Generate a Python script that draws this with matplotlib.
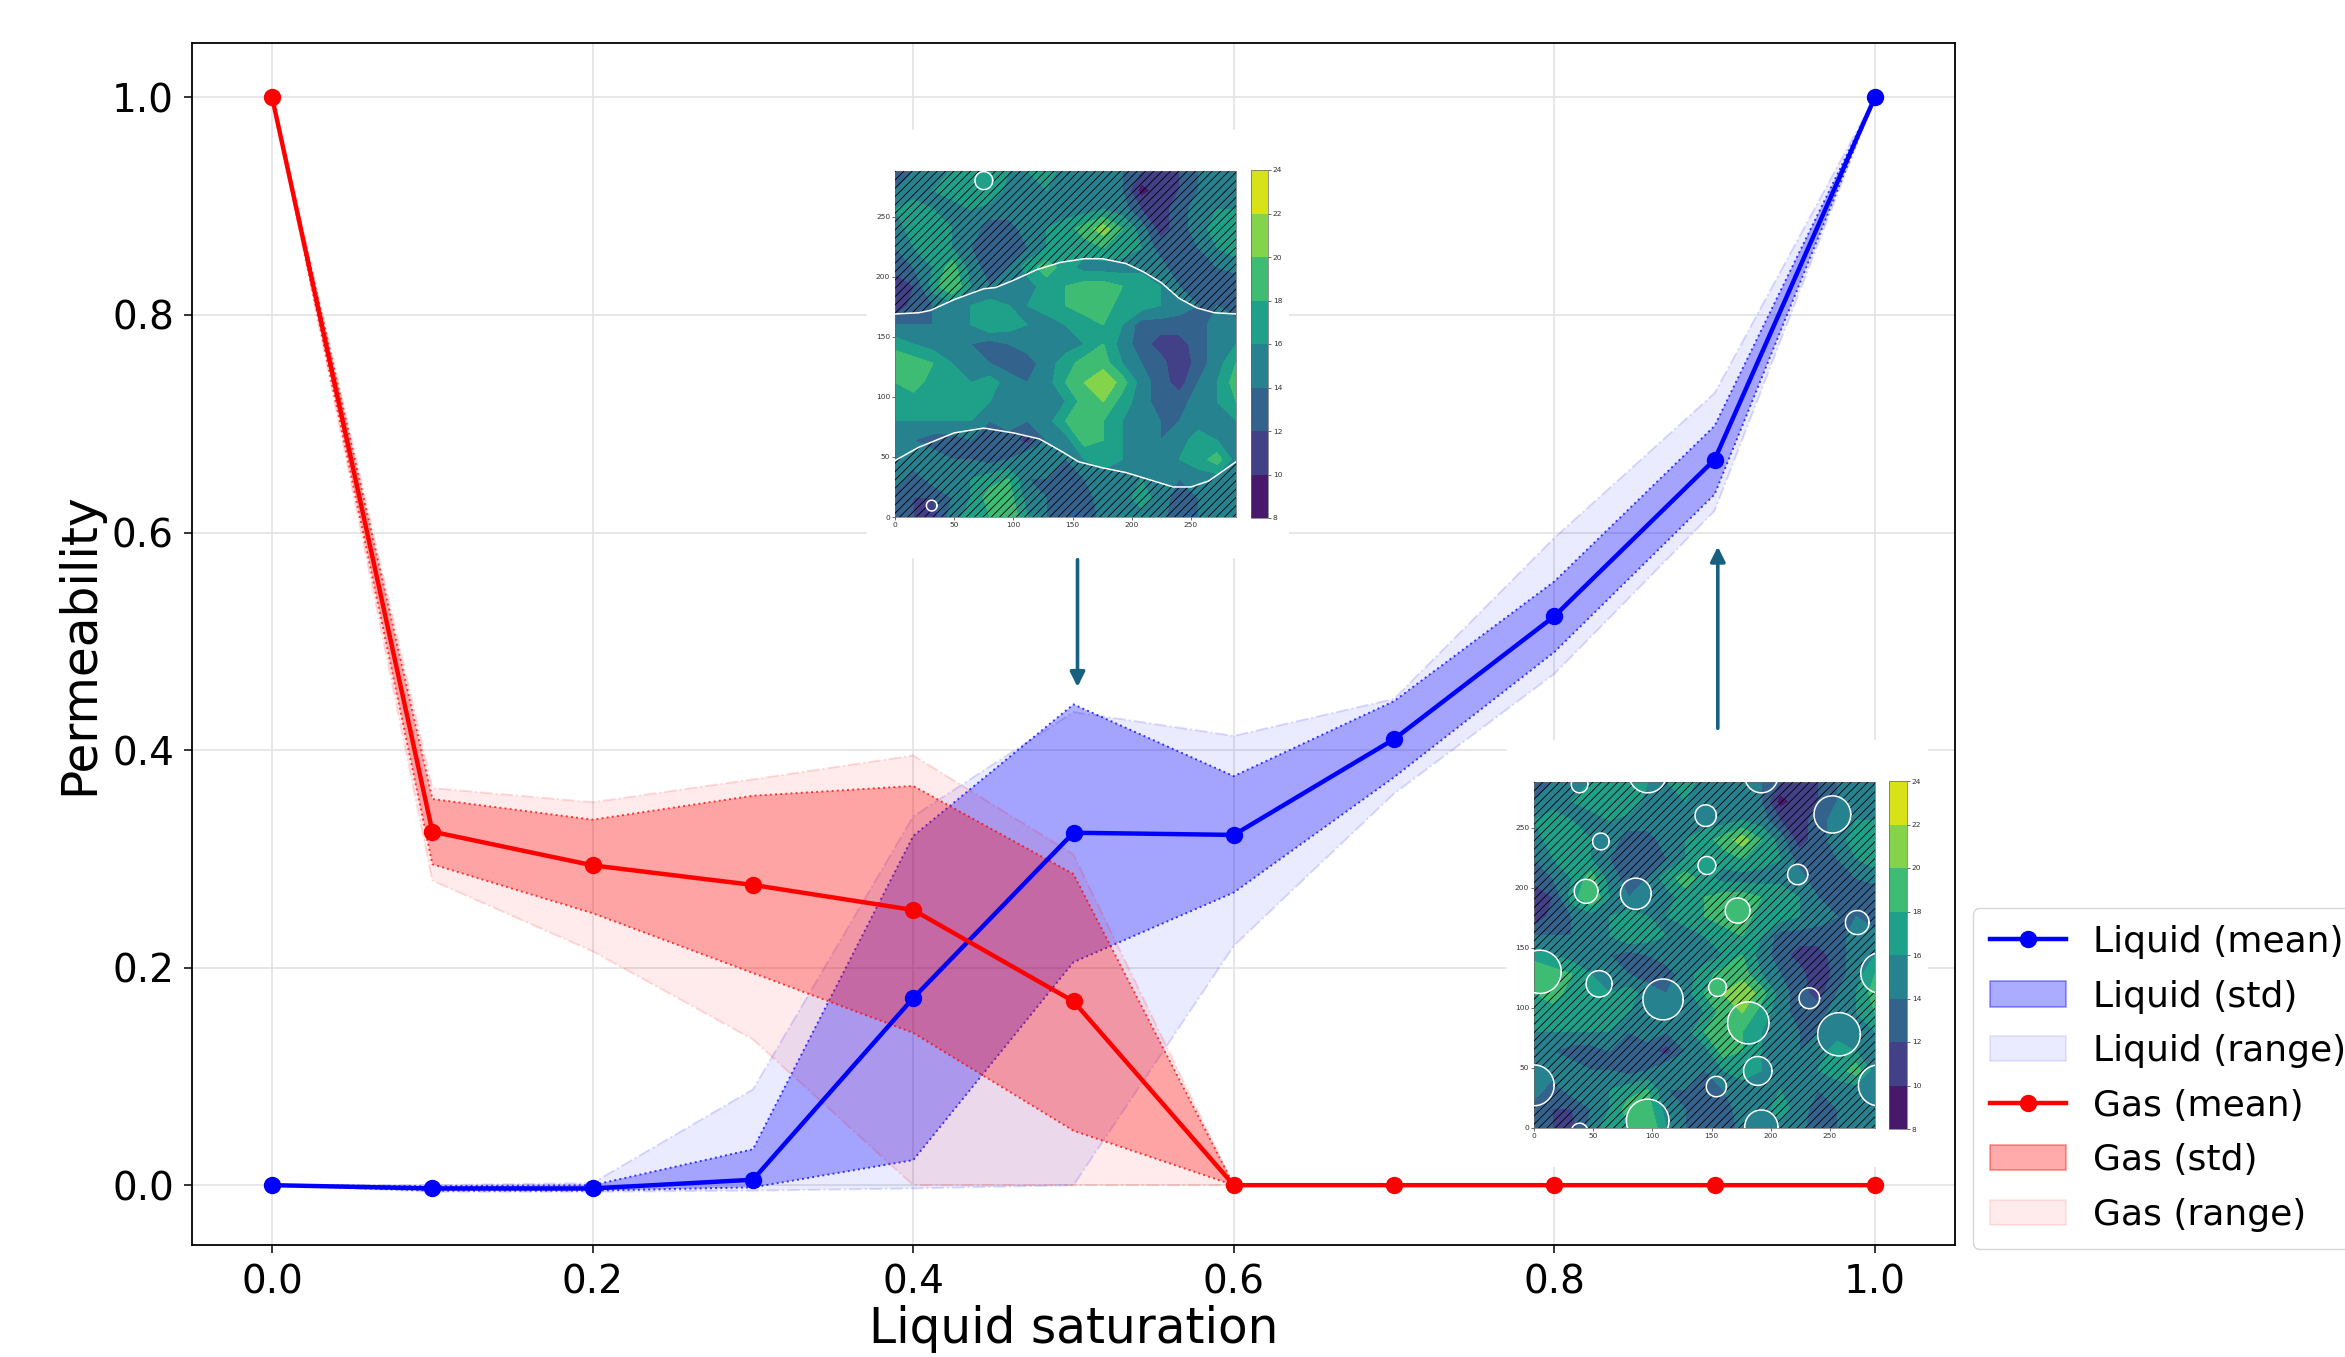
import numpy as np
import matplotlib
matplotlib.use('Agg')
import matplotlib.pyplot as plt
from matplotlib.lines import Line2D
from matplotlib.patches import Patch, PathPatch
from matplotlib.path import Path

W, H = 2345, 1357

sat = [0.0, 0.1, 0.2, 0.3, 0.4, 0.5, 0.6, 0.7, 0.8, 0.9, 1.0]

liquid_mean = [0.0, -0.003, -0.003, 0.005, 0.172, 0.324, 0.322, 0.410, 0.523, 0.667, 1.0]
liquid_std_hi = [0.0, -0.001, 0.0, 0.033, 0.321, 0.442, 0.376, 0.445, 0.555, 0.698, 1.0]
liquid_std_lo = [0.0, -0.005, -0.005, -0.002, 0.023, 0.205, 0.269, 0.375, 0.490, 0.635, 1.0]
liquid_rng_hi = [0.0, 0.0, 0.002, 0.088, 0.339, 0.435, 0.413, 0.447, 0.595, 0.728, 1.0]
liquid_rng_lo = [0.0, -0.006, -0.006, -0.005, -0.003, 0.0, 0.220, 0.360, 0.470, 0.620, 1.0]

gas_mean = [1.0, 0.325, 0.294, 0.276, 0.253, 0.169, 0.0, 0.0, 0.0, 0.0, 0.0]
gas_std_hi = [1.0, 0.355, 0.336, 0.358, 0.367, 0.286, 0.0, 0.0, 0.0, 0.0, 0.0]
gas_std_lo = [1.0, 0.295, 0.250, 0.195, 0.140, 0.050, 0.0, 0.0, 0.0, 0.0, 0.0]
gas_rng_hi = [1.0, 0.365, 0.352, 0.373, 0.395, 0.304, 0.0, 0.0, 0.0, 0.0, 0.0]
gas_rng_lo = [1.0, 0.280, 0.215, 0.134, 0.0, 0.0, 0.0, 0.0, 0.0, 0.0, 0.0]

# inset field (rows run from y=288 down to y=0)
field_x = [0, 16, 32, 48, 64, 80, 96, 112, 128, 144, 160, 176, 192, 208, 224, 240, 256, 272, 288]
field_y = [288, 272, 256, 240, 224, 208, 192, 176, 160, 144, 128, 112, 96, 80, 64, 48, 32, 16, 0]
field = [
    [14, 14, 15, 16, 18, 17, 16, 16, 17, 15, 15, 15, 14, 12, 11, 12, 14, 15, 15],
    [14, 15, 16, 17, 17, 18, 15, 15, 16, 15, 14, 15, 14, 9, 11, 12, 14, 15, 15],
    [16, 17, 16, 15, 16, 15, 15, 15, 15, 15, 15, 16, 15, 12, 11, 13, 15, 16, 16],
    [15, 17, 18, 16, 15, 13, 13, 15, 16, 17, 19, 21, 18, 15, 11, 13, 15, 17, 17],
    [14, 16, 18, 16, 14, 12, 12, 14, 16, 17, 17, 18, 17, 16, 13, 13, 14, 16, 17],
    [13, 14, 16, 19, 15, 13, 14, 17, 19, 17, 15, 15, 15, 15, 15, 12, 14, 14, 15],
    [10, 12, 17, 20, 16, 14, 15, 15, 17, 18, 19, 19, 18, 18, 16, 14, 14, 13, 12],
    [10, 13, 14, 15, 16, 17, 16, 16, 17, 18, 19, 19, 17, 17, 16, 15, 14, 14, 12],
    [14, 14, 14, 15, 16, 18, 17, 16, 15, 16, 17, 18, 16, 13, 13, 13, 13, 15, 15],
    [17, 16, 15, 14, 14, 13, 14, 15, 16, 15, 16, 18, 15, 13, 11, 11, 13, 15, 16],
    [20, 19, 18, 16, 15, 14, 13, 13, 15, 17, 19, 19, 16, 14, 13, 10, 13, 15, 18],
    [18, 19, 17, 17, 16, 17, 15, 14, 15, 18, 20, 22, 19, 15, 13, 11, 14, 16, 19],
    [18, 17, 17, 17, 18, 16, 15, 15, 15, 16, 19, 20, 17, 15, 13, 13, 15, 16, 18],
    [16, 16, 16, 16, 16, 14, 15, 14, 15, 18, 19, 18, 16, 15, 14, 14, 15, 16, 16],
    [15, 14, 13, 13, 14, 14, 13, 11, 14, 15, 19, 18, 16, 15, 14, 15, 17, 16, 15],
    [15, 15, 15, 14, 14, 13, 14, 16, 15, 14, 16, 17, 16, 15, 15, 16, 17, 19, 15],
    [15, 13, 15, 15, 16, 17, 18, 14, 14, 14, 14, 15, 14, 16, 15, 14, 15, 15, 15],
    [13, 12, 12, 14, 16, 19, 19, 15, 14, 14, 13, 15, 15, 17, 15, 13, 14, 15, 16],
    [13, 12, 11, 15, 17, 18, 20, 16, 14, 13, 12, 15, 15, 15, 15, 12, 14, 15, 15],
]
levels = [8, 10, 12, 14, 16, 18, 20, 22, 24]

upper_curve = [(0, 169), (20, 170), (30, 172), (50, 181), (75, 190), (85, 191), (100, 197), (120, 206),
               (140, 212), (160, 215), (175, 215), (195, 211), (210, 204), (225, 195), (240, 182),
               (255, 174), (270, 170), (288, 169)]
lower_curve = [(0, 47), (20, 58), (50, 70), (75, 74), (100, 70), (122, 65), (140, 55), (155, 46),
               (175, 41), (195, 37), (215, 31), (235, 25), (250, 25), (265, 30), (288, 46)]
circles_a = [(75, 280, 7.5), (31, 9.5, 4.5)]
circles_b = [(38.5, 286, 7), (96, 295, 16), (192, 293, 14), (252, 261, 15.5), (145, 260, 9),
             (56.5, 238.5, 7), (146, 218.5, 7.5), (222.7, 211, 8.5), (44, 197, 10), (86, 195, 13),
             (172, 181, 10.5), (273, 171, 10), (5, 130, 18), (293, 129, 17), (55, 120, 11),
             (109, 107, 17), (155, 117, 7.5), (232.5, 108, 8.7), (181, 87.5, 17.5), (257.6, 78, 18),
             (189, 47.5, 12), (154, 34.5, 8.5), (0, 35.5, 17), (291, 35.5, 17), (96, 6, 18),
             (192, 1, 14), (38.5, -3, 7)]

BLUE = (0, 0, 1)
RED = (1, 0, 0)
ARROW = '#17607f'


def px_axes(fig, x0, y0, x1, y1, **kw):
    # axes from pixel box, y measured from the top of the image
    return fig.add_axes([x0 / W, 1 - y1 / H, (x1 - x0) / W, (y1 - y0) / H], **kw)


def band(ax, lo, hi, color, alpha, edge_alpha, ls):
    ax.fill_between(sat, lo, hi, facecolor=color + (alpha,), edgecolor=color + (edge_alpha,),
                    linestyle=ls, linewidth=1.4)


def ring(cx, cy, r):
    t = np.linspace(0, -2 * np.pi, 61)
    return np.column_stack([cx + r * np.cos(t), cy + r * np.sin(t)])


def closed(pts):
    pts = np.asarray(pts, dtype=float)
    return Path(np.vstack([pts, pts[:1]]), closed=True)


def draw_map(fig, box, cbox, regions, circles, curves):
    ax = px_axes(fig, *box)
    cs = ax.contourf(field_x, field_y, field, levels=levels, cmap='viridis')
    paths = [closed(r) for r in regions] + [closed(ring(*c)) for c in circles]
    ax.add_patch(PathPatch(Path.make_compound_path(*paths), facecolor='none', edgecolor='black',
                           hatch='////', linewidth=0, zorder=3))
    for curve in curves:
        ax.plot(*zip(*curve), color='white', lw=1.1, zorder=4)
    for c in circles:
        ax.plot(*ring(*c).T, color='white', lw=1.1, zorder=4)
    ax.set_xlim(0, 288)
    ax.set_ylim(0, 288)
    ax.set_xticks([0, 50, 100, 150, 200, 250])
    ax.set_yticks([0, 50, 100, 150, 200, 250])
    ax.tick_params(labelsize=5.4, length=2, width=0.5, pad=1.5, colors='#333333')
    for s in ax.spines.values():
        s.set_linewidth(0.5)
        s.set_color('#666666')

    cax = px_axes(fig, *cbox)
    cb = fig.colorbar(cs, cax=cax)
    cb.set_ticks(levels)
    cb.ax.tick_params(labelsize=5.4, length=2, width=0.5, pad=1.5, colors='#333333')
    cb.outline.set_linewidth(0.5)
    cb.outline.set_edgecolor('#666666')


plt.rcParams['hatch.linewidth'] = 0.6

fig = plt.figure(figsize=(W / 100, H / 100), dpi=100)
ax = px_axes(fig, 192, 43, 1955, 1245)

band(ax, liquid_rng_lo, liquid_rng_hi, BLUE, 0.08, 0.14, '-.')
band(ax, liquid_std_lo, liquid_std_hi, BLUE, 0.3, 0.75, ':')
band(ax, gas_rng_lo, gas_rng_hi, RED, 0.08, 0.14, '-.')
band(ax, gas_std_lo, gas_std_hi, RED, 0.3, 0.75, ':')
ax.plot(sat, liquid_mean, color='blue', lw=3.2, marker='o', ms=11.5)
ax.plot(sat, gas_mean, color='red', lw=3.2, marker='o', ms=11.5)

ax.set_xlim(-0.05, 1.05)
ax.set_ylim(-0.055, 1.05)
ax.set_xticks([0.0, 0.2, 0.4, 0.6, 0.8, 1.0])
ax.set_yticks([0.0, 0.2, 0.4, 0.6, 0.8, 1.0])
ax.grid(True, color='#e3e3e3', lw=1.2)
ax.set_axisbelow(True)
ax.tick_params(labelsize=28, length=6, width=1.1, pad=7)
ax.set_xlabel('Liquid saturation', fontsize=35, labelpad=3)
ax.set_ylabel('Permeability', fontsize=35, labelpad=6)
for s in ax.spines.values():
    s.set_linewidth(1.3)

ax.annotate('', xy=(0.5025, 0.458), xytext=(0.5025, 0.575), annotation_clip=False,
            arrowprops=dict(arrowstyle='-|>', color=ARROW, lw=2.6, mutation_scale=22, shrinkA=0, shrinkB=0))
ax.annotate('', xy=(0.902, 0.587), xytext=(0.902, 0.42), annotation_clip=False,
            arrowprops=dict(arrowstyle='-|>', color=ARROW, lw=2.6, mutation_scale=22, shrinkA=0, shrinkB=0))

# white backing cards hide the grid behind the two maps
for card in [(867, 130, 1289, 558), (1507, 740, 1928, 1167)]:
    bg = px_axes(fig, *card)
    bg.axis('off')
    bg.add_patch(plt.Rectangle((0, 0), 1, 1, color='white', transform=bg.transAxes))

top_region = list(upper_curve) + [(288, 330), (0, 330)]
bottom_region = list(lower_curve)[::-1] + [(0, -30), (288, -30)]
full_region = [(-30, -30), (330, -30), (330, 330), (-30, 330)]

draw_map(fig, (895, 171, 1236, 517), (1251, 170, 1268, 518), [top_region, bottom_region], circles_a,
         [upper_curve, lower_curve])
draw_map(fig, (1534, 782, 1875, 1128), (1889, 781, 1907, 1129), [full_region], circles_b, [])

handles = [
    Line2D([], [], color='blue', lw=3.2, marker='o', ms=11.5),
    Patch(facecolor=BLUE + (0.33,), edgecolor=BLUE + (0.4,), lw=1.2),
    Patch(facecolor=BLUE + (0.08,), edgecolor=BLUE + (0.1,), lw=1.2),
    Line2D([], [], color='red', lw=3.2, marker='o', ms=11.5),
    Patch(facecolor=RED + (0.33,), edgecolor=RED + (0.4,), lw=1.2),
    Patch(facecolor=RED + (0.08,), edgecolor=RED + (0.1,), lw=1.2),
]
labels = ['Liquid (mean)', 'Liquid (std)', 'Liquid (range)', 'Gas (mean)', 'Gas (std)', 'Gas (range)']
fig.legend(handles, labels, loc='lower left', bbox_to_anchor=(1973 / W, 1 - 1249 / H), borderaxespad=0,
           fontsize=26, handlelength=2.1, labelspacing=0.57, handletextpad=0.75, borderpad=0.47)

fig.savefig('out.png', dpi=100)
